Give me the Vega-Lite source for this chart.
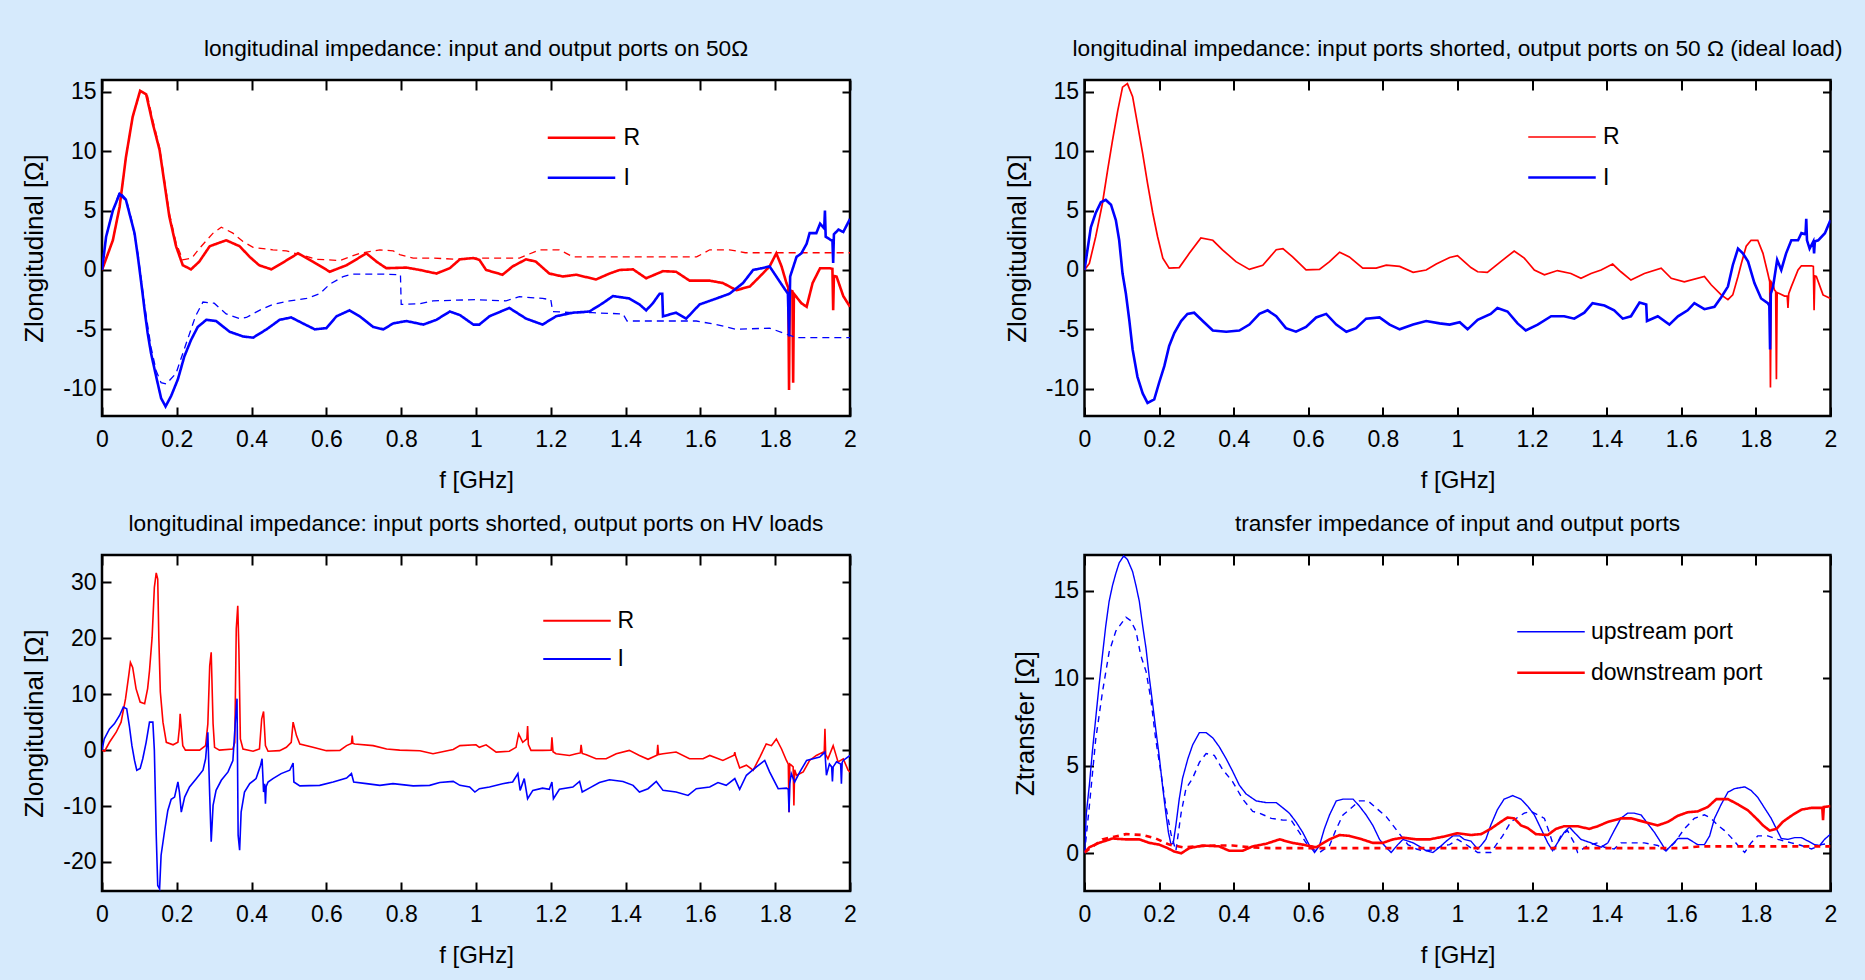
{
  "$schema": "https://vega.github.io/schema/vega-lite/v6.json",
  "background": "#d6eafc",
  "padding": {"left": 20, "top": 37, "right": 24, "bottom": 12},
  "config": {
    "font": "'Liberation Sans', Arial, sans-serif",
    "view": {"stroke": "#000000", "strokeWidth": 2.5, "fill": "#ffffff"},
    "axis": {"domain": false, "grid": false, "tickColor": "#000000", "tickWidth": 2, "tickSize": -9, "labelColor": "#000000", "labelFontSize": 23, "titleFontSize": 24, "titleFontWeight": "normal", "titleColor": "#000000", "labelFlush": false, "labelOverlap": false, "labelBound": false},
    "title": {"fontSize": 22.7, "fontWeight": "normal", "color": "#000000", "anchor": "middle", "baseline": "alphabetic", "offset": 18},
    "legend": {"labelColor": "#000000", "labelFontSize": 23, "labelLimit": 400, "padding": 0, "symbolType": "M-2.5,0H2.5", "symbolSize": 729, "orient": "none"}
  },
  "resolve": {
    "scale": {"color": "independent", "strokeWidth": "independent", "strokeDash": "independent"},
    "legend": {"color": "independent", "strokeWidth": "independent", "strokeDash": "independent"}
  },
  "datasets": {
    "p1": [
      {"f":0,"v":0,"s":"R","k":"m"},{"f":0.029,"v":2.5,"s":"R","k":"m"},{"f":0.047,"v":5.3,"s":"R","k":"m"},{"f":0.064,"v":9.5,"s":"R","k":"m"},{"f":0.082,"v":12.9,"s":"R","k":"m"},{"f":0.102,"v":15.1,"s":"R","k":"m"},{"f":0.118,"v":14.8,"s":"R","k":"m"},{"f":0.136,"v":12.3,"s":"R","k":"m"},{"f":0.154,"v":10.1,"s":"R","k":"m"},{"f":0.167,"v":7.3,"s":"R","k":"m"},{"f":0.18,"v":4.5,"s":"R","k":"m"},{"f":0.198,"v":2.0,"s":"R","k":"m"},{"f":0.216,"v":0.4,"s":"R","k":"m"},{"f":0.238,"v":0.05,"s":"R","k":"m"},{"f":0.26,"v":0.7,"s":"R","k":"m"},{"f":0.288,"v":2.0,"s":"R","k":"m"},{"f":0.332,"v":2.5,"s":"R","k":"m"},{"f":0.368,"v":2.0,"s":"R","k":"m"},{"f":0.395,"v":1.1,"s":"R","k":"m"},{"f":0.42,"v":0.4,"s":"R","k":"m"},{"f":0.453,"v":0.05,"s":"R","k":"m"},{"f":0.493,"v":0.8,"s":"R","k":"m"},{"f":0.524,"v":1.4,"s":"R","k":"m"},{"f":0.564,"v":0.7,"s":"R","k":"m"},{"f":0.609,"v":-0.15,"s":"R","k":"m"},{"f":0.654,"v":0.4,"s":"R","k":"m"},{"f":0.707,"v":1.4,"s":"R","k":"m"},{"f":0.734,"v":0.7,"s":"R","k":"m"},{"f":0.76,"v":0.15,"s":"R","k":"m"},{"f":0.814,"v":0.2,"s":"R","k":"m"},{"f":0.85,"v":0,"s":"R","k":"m"},{"f":0.894,"v":-0.3,"s":"R","k":"m"},{"f":0.93,"v":0.15,"s":"R","k":"m"},{"f":0.957,"v":0.9,"s":"R","k":"m"},{"f":0.993,"v":1.0,"s":"R","k":"m"},{"f":1.009,"v":0.85,"s":"R","k":"m"},{"f":1.027,"v":0,"s":"R","k":"m"},{"f":1.071,"v":-0.4,"s":"R","k":"m"},{"f":1.098,"v":0.3,"s":"R","k":"m"},{"f":1.134,"v":0.9,"s":"R","k":"m"},{"f":1.16,"v":0.7,"s":"R","k":"m"},{"f":1.196,"v":-0.3,"s":"R","k":"m"},{"f":1.232,"v":-0.55,"s":"R","k":"m"},{"f":1.268,"v":-0.4,"s":"R","k":"m"},{"f":1.321,"v":-0.8,"s":"R","k":"m"},{"f":1.357,"v":-0.3,"s":"R","k":"m"},{"f":1.384,"v":0,"s":"R","k":"m"},{"f":1.42,"v":0.05,"s":"R","k":"m"},{"f":1.455,"v":-0.7,"s":"R","k":"m"},{"f":1.5,"v":-0.1,"s":"R","k":"m"},{"f":1.535,"v":-0.15,"s":"R","k":"m"},{"f":1.571,"v":-0.9,"s":"R","k":"m"},{"f":1.625,"v":-0.9,"s":"R","k":"m"},{"f":1.66,"v":-1.1,"s":"R","k":"m"},{"f":1.696,"v":-1.7,"s":"R","k":"m"},{"f":1.732,"v":-1.4,"s":"R","k":"m"},{"f":1.759,"v":-0.55,"s":"R","k":"m"},{"f":1.785,"v":0.3,"s":"R","k":"m"},{"f":1.803,"v":1.4,"s":"R","k":"m"},{"f":1.817,"v":0.3,"s":"R","k":"m"},{"f":1.83,"v":-1.1,"s":"R","k":"m"},{"f":1.835,"v":-1.5,"s":"R","k":"m"},{"f":1.837,"v":-10.1,"s":"R","k":"m"},{"f":1.839,"v":-1.7,"s":"R","k":"m"},{"f":1.846,"v":-1.8,"s":"R","k":"m"},{"f":1.848,"v":-9.5,"s":"R","k":"m"},{"f":1.85,"v":-2,"s":"R","k":"m"},{"f":1.87,"v":-2.8,"s":"R","k":"m"},{"f":1.884,"v":-3.1,"s":"R","k":"m"},{"f":1.9,"v":-1.1,"s":"R","k":"m"},{"f":1.92,"v":0.15,"s":"R","k":"m"},{"f":1.946,"v":0.15,"s":"R","k":"m"},{"f":1.953,"v":0.1,"s":"R","k":"m"},{"f":1.955,"v":-3.4,"s":"R","k":"m"},{"f":1.957,"v":-0.5,"s":"R","k":"m"},{"f":1.964,"v":-0.55,"s":"R","k":"m"},{"f":1.982,"v":-2.2,"s":"R","k":"m"},{"f":2.0,"v":-3.1,"s":"R","k":"m"},
      {"f":0,"v":0,"s":"R","k":"s"},{"f":0.029,"v":2.5,"s":"R","k":"s"},{"f":0.047,"v":5.3,"s":"R","k":"s"},{"f":0.064,"v":9.5,"s":"R","k":"s"},{"f":0.082,"v":12.9,"s":"R","k":"s"},{"f":0.102,"v":15.0,"s":"R","k":"s"},{"f":0.12,"v":14.9,"s":"R","k":"s"},{"f":0.136,"v":12.6,"s":"R","k":"s"},{"f":0.154,"v":10.3,"s":"R","k":"s"},{"f":0.167,"v":7.6,"s":"R","k":"s"},{"f":0.18,"v":4.8,"s":"R","k":"s"},{"f":0.198,"v":2.3,"s":"R","k":"s"},{"f":0.216,"v":0.85,"s":"R","k":"s"},{"f":0.24,"v":1.0,"s":"R","k":"s"},{"f":0.26,"v":1.8,"s":"R","k":"s"},{"f":0.297,"v":3.1,"s":"R","k":"s"},{"f":0.319,"v":3.6,"s":"R","k":"s"},{"f":0.35,"v":3.1,"s":"R","k":"s"},{"f":0.377,"v":2.4,"s":"R","k":"s"},{"f":0.404,"v":1.9,"s":"R","k":"s"},{"f":0.457,"v":1.7,"s":"R","k":"s"},{"f":0.493,"v":1.6,"s":"R","k":"s"},{"f":0.529,"v":1.3,"s":"R","k":"s"},{"f":0.573,"v":0.9,"s":"R","k":"s"},{"f":0.636,"v":0.8,"s":"R","k":"s"},{"f":0.689,"v":1.4,"s":"R","k":"s"},{"f":0.743,"v":1.7,"s":"R","k":"s"},{"f":0.779,"v":1.6,"s":"R","k":"s"},{"f":0.796,"v":1.3,"s":"R","k":"s"},{"f":0.832,"v":1.0,"s":"R","k":"s"},{"f":0.885,"v":1.0,"s":"R","k":"s"},{"f":0.948,"v":0.9,"s":"R","k":"s"},{"f":1.0,"v":1.0,"s":"R","k":"s"},{"f":1.116,"v":1.0,"s":"R","k":"s"},{"f":1.17,"v":1.7,"s":"R","k":"s"},{"f":1.223,"v":1.7,"s":"R","k":"s"},{"f":1.259,"v":1.1,"s":"R","k":"s"},{"f":1.357,"v":1.1,"s":"R","k":"s"},{"f":1.59,"v":1.1,"s":"R","k":"s"},{"f":1.625,"v":1.7,"s":"R","k":"s"},{"f":1.678,"v":1.7,"s":"R","k":"s"},{"f":1.72,"v":1.45,"s":"R","k":"s"},{"f":2.0,"v":1.45,"s":"R","k":"s"},
      {"f":0,"v":0,"s":"I","k":"m"},{"f":0.011,"v":2.8,"s":"I","k":"m"},{"f":0.029,"v":5.0,"s":"I","k":"m"},{"f":0.047,"v":6.4,"s":"I","k":"m"},{"f":0.064,"v":5.9,"s":"I","k":"m"},{"f":0.078,"v":4.2,"s":"I","k":"m"},{"f":0.087,"v":3.1,"s":"I","k":"m"},{"f":0.096,"v":1.1,"s":"I","k":"m"},{"f":0.105,"v":-1.1,"s":"I","k":"m"},{"f":0.114,"v":-3.4,"s":"I","k":"m"},{"f":0.122,"v":-5.3,"s":"I","k":"m"},{"f":0.131,"v":-7.0,"s":"I","k":"m"},{"f":0.145,"v":-9.0,"s":"I","k":"m"},{"f":0.158,"v":-10.8,"s":"I","k":"m"},{"f":0.17,"v":-11.5,"s":"I","k":"m"},{"f":0.185,"v":-10.6,"s":"I","k":"m"},{"f":0.203,"v":-9.2,"s":"I","k":"m"},{"f":0.22,"v":-7.3,"s":"I","k":"m"},{"f":0.238,"v":-5.9,"s":"I","k":"m"},{"f":0.256,"v":-4.8,"s":"I","k":"m"},{"f":0.279,"v":-4.2,"s":"I","k":"m"},{"f":0.305,"v":-4.3,"s":"I","k":"m"},{"f":0.341,"v":-5.2,"s":"I","k":"m"},{"f":0.377,"v":-5.6,"s":"I","k":"m"},{"f":0.404,"v":-5.7,"s":"I","k":"m"},{"f":0.44,"v":-5.0,"s":"I","k":"m"},{"f":0.475,"v":-4.2,"s":"I","k":"m"},{"f":0.506,"v":-4.0,"s":"I","k":"m"},{"f":0.537,"v":-4.5,"s":"I","k":"m"},{"f":0.569,"v":-5.0,"s":"I","k":"m"},{"f":0.6,"v":-4.9,"s":"I","k":"m"},{"f":0.627,"v":-3.9,"s":"I","k":"m"},{"f":0.662,"v":-3.4,"s":"I","k":"m"},{"f":0.689,"v":-3.9,"s":"I","k":"m"},{"f":0.725,"v":-4.8,"s":"I","k":"m"},{"f":0.752,"v":-5.0,"s":"I","k":"m"},{"f":0.779,"v":-4.5,"s":"I","k":"m"},{"f":0.814,"v":-4.3,"s":"I","k":"m"},{"f":0.859,"v":-4.6,"s":"I","k":"m"},{"f":0.894,"v":-4.2,"s":"I","k":"m"},{"f":0.93,"v":-3.5,"s":"I","k":"m"},{"f":0.957,"v":-3.8,"s":"I","k":"m"},{"f":0.993,"v":-4.6,"s":"I","k":"m"},{"f":1.009,"v":-4.6,"s":"I","k":"m"},{"f":1.036,"v":-3.9,"s":"I","k":"m"},{"f":1.089,"v":-3.2,"s":"I","k":"m"},{"f":1.134,"v":-4.1,"s":"I","k":"m"},{"f":1.178,"v":-4.6,"s":"I","k":"m"},{"f":1.214,"v":-3.9,"s":"I","k":"m"},{"f":1.259,"v":-3.6,"s":"I","k":"m"},{"f":1.303,"v":-3.5,"s":"I","k":"m"},{"f":1.339,"v":-2.8,"s":"I","k":"m"},{"f":1.366,"v":-2.2,"s":"I","k":"m"},{"f":1.41,"v":-2.4,"s":"I","k":"m"},{"f":1.437,"v":-2.9,"s":"I","k":"m"},{"f":1.455,"v":-3.4,"s":"I","k":"m"},{"f":1.473,"v":-2.8,"s":"I","k":"m"},{"f":1.491,"v":-2.0,"s":"I","k":"m"},{"f":1.498,"v":-2.0,"s":"I","k":"m"},{"f":1.5,"v":-3.9,"s":"I","k":"m"},{"f":1.535,"v":-3.6,"s":"I","k":"m"},{"f":1.562,"v":-4.1,"s":"I","k":"m"},{"f":1.598,"v":-2.9,"s":"I","k":"m"},{"f":1.643,"v":-2.4,"s":"I","k":"m"},{"f":1.678,"v":-2.0,"s":"I","k":"m"},{"f":1.714,"v":-1.1,"s":"I","k":"m"},{"f":1.741,"v":0,"s":"I","k":"m"},{"f":1.772,"v":0.2,"s":"I","k":"m"},{"f":1.785,"v":0.3,"s":"I","k":"m"},{"f":1.803,"v":-0.55,"s":"I","k":"m"},{"f":1.821,"v":-1.4,"s":"I","k":"m"},{"f":1.834,"v":-2.0,"s":"I","k":"m"},{"f":1.837,"v":-5.6,"s":"I","k":"m"},{"f":1.84,"v":-0.55,"s":"I","k":"m"},{"f":1.857,"v":1.1,"s":"I","k":"m"},{"f":1.87,"v":1.4,"s":"I","k":"m"},{"f":1.884,"v":2.2,"s":"I","k":"m"},{"f":1.892,"v":3.1,"s":"I","k":"m"},{"f":1.91,"v":3.1,"s":"I","k":"m"},{"f":1.92,"v":3.9,"s":"I","k":"m"},{"f":1.931,"v":3.5,"s":"I","k":"m"},{"f":1.933,"v":5.0,"s":"I","k":"m"},{"f":1.935,"v":2.8,"s":"I","k":"m"},{"f":1.95,"v":2.5,"s":"I","k":"m"},{"f":1.953,"v":2.5,"s":"I","k":"m"},{"f":1.955,"v":0.6,"s":"I","k":"m"},{"f":1.957,"v":3.0,"s":"I","k":"m"},{"f":1.969,"v":3.4,"s":"I","k":"m"},{"f":1.982,"v":3.2,"s":"I","k":"m"},{"f":2.0,"v":4.3,"s":"I","k":"m"},
      {"f":0,"v":0,"s":"I","k":"s"},{"f":0.011,"v":2.8,"s":"I","k":"s"},{"f":0.029,"v":5.0,"s":"I","k":"s"},{"f":0.047,"v":6.6,"s":"I","k":"s"},{"f":0.064,"v":6.0,"s":"I","k":"s"},{"f":0.078,"v":4.4,"s":"I","k":"s"},{"f":0.096,"v":1.4,"s":"I","k":"s"},{"f":0.114,"v":-3.0,"s":"I","k":"s"},{"f":0.131,"v":-6.5,"s":"I","k":"s"},{"f":0.145,"v":-8.5,"s":"I","k":"s"},{"f":0.158,"v":-9.5,"s":"I","k":"s"},{"f":0.172,"v":-9.6,"s":"I","k":"s"},{"f":0.198,"v":-8.7,"s":"I","k":"s"},{"f":0.225,"v":-6.2,"s":"I","k":"s"},{"f":0.25,"v":-3.9,"s":"I","k":"s"},{"f":0.27,"v":-2.7,"s":"I","k":"s"},{"f":0.3,"v":-2.8,"s":"I","k":"s"},{"f":0.332,"v":-3.7,"s":"I","k":"s"},{"f":0.368,"v":-4.1,"s":"I","k":"s"},{"f":0.386,"v":-4.0,"s":"I","k":"s"},{"f":0.421,"v":-3.4,"s":"I","k":"s"},{"f":0.457,"v":-2.9,"s":"I","k":"s"},{"f":0.502,"v":-2.6,"s":"I","k":"s"},{"f":0.547,"v":-2.4,"s":"I","k":"s"},{"f":0.582,"v":-2.0,"s":"I","k":"s"},{"f":0.609,"v":-1.2,"s":"I","k":"s"},{"f":0.645,"v":-0.55,"s":"I","k":"s"},{"f":0.671,"v":-0.35,"s":"I","k":"s"},{"f":0.752,"v":-0.35,"s":"I","k":"s"},{"f":0.798,"v":-0.4,"s":"I","k":"s"},{"f":0.8,"v":-2.9,"s":"I","k":"s"},{"f":0.85,"v":-2.85,"s":"I","k":"s"},{"f":0.885,"v":-2.6,"s":"I","k":"s"},{"f":1.0,"v":-2.5,"s":"I","k":"s"},{"f":1.08,"v":-2.6,"s":"I","k":"s"},{"f":1.116,"v":-2.25,"s":"I","k":"s"},{"f":1.178,"v":-2.4,"s":"I","k":"s"},{"f":1.2,"v":-2.5,"s":"I","k":"s"},{"f":1.205,"v":-3.5,"s":"I","k":"s"},{"f":1.259,"v":-3.6,"s":"I","k":"s"},{"f":1.312,"v":-3.6,"s":"I","k":"s"},{"f":1.393,"v":-3.7,"s":"I","k":"s"},{"f":1.404,"v":-4.3,"s":"I","k":"s"},{"f":1.589,"v":-4.3,"s":"I","k":"s"},{"f":1.643,"v":-4.6,"s":"I","k":"s"},{"f":1.696,"v":-5.0,"s":"I","k":"s"},{"f":1.785,"v":-4.9,"s":"I","k":"s"},{"f":1.821,"v":-5.3,"s":"I","k":"s"},{"f":1.857,"v":-5.7,"s":"I","k":"s"},{"f":2.0,"v":-5.7,"s":"I","k":"s"}
    ],
    "p2": [
      {"f":0,"v":0,"s":"R"},{"f":0.013,"v":0.55,"s":"R"},{"f":0.03,"v":2.8,"s":"R"},{"f":0.048,"v":5.6,"s":"R"},{"f":0.062,"v":8.4,"s":"R"},{"f":0.075,"v":10.9,"s":"R"},{"f":0.089,"v":13.4,"s":"R"},{"f":0.102,"v":15.4,"s":"R"},{"f":0.115,"v":15.7,"s":"R"},{"f":0.129,"v":14.6,"s":"R"},{"f":0.142,"v":12.3,"s":"R"},{"f":0.156,"v":9.8,"s":"R"},{"f":0.169,"v":7.3,"s":"R"},{"f":0.183,"v":4.8,"s":"R"},{"f":0.196,"v":2.8,"s":"R"},{"f":0.21,"v":1.0,"s":"R"},{"f":0.227,"v":0.15,"s":"R"},{"f":0.254,"v":0.2,"s":"R"},{"f":0.281,"v":1.4,"s":"R"},{"f":0.312,"v":2.7,"s":"R"},{"f":0.344,"v":2.5,"s":"R"},{"f":0.37,"v":1.7,"s":"R"},{"f":0.406,"v":0.7,"s":"R"},{"f":0.442,"v":0.05,"s":"R"},{"f":0.478,"v":0.4,"s":"R"},{"f":0.514,"v":1.7,"s":"R"},{"f":0.532,"v":1.8,"s":"R"},{"f":0.558,"v":1.1,"s":"R"},{"f":0.594,"v":0,"s":"R"},{"f":0.63,"v":0.05,"s":"R"},{"f":0.657,"v":0.7,"s":"R"},{"f":0.684,"v":1.5,"s":"R"},{"f":0.71,"v":1.1,"s":"R"},{"f":0.746,"v":0.15,"s":"R"},{"f":0.782,"v":0.15,"s":"R"},{"f":0.809,"v":0.4,"s":"R"},{"f":0.845,"v":0.3,"s":"R"},{"f":0.881,"v":-0.2,"s":"R"},{"f":0.916,"v":0,"s":"R"},{"f":0.943,"v":0.5,"s":"R"},{"f":0.979,"v":1.05,"s":"R"},{"f":1.0,"v":1.2,"s":"R"},{"f":1.018,"v":0.7,"s":"R"},{"f":1.036,"v":0.2,"s":"R"},{"f":1.054,"v":-0.15,"s":"R"},{"f":1.08,"v":-0.2,"s":"R"},{"f":1.116,"v":0.7,"s":"R"},{"f":1.152,"v":1.6,"s":"R"},{"f":1.179,"v":1.0,"s":"R"},{"f":1.206,"v":0,"s":"R"},{"f":1.233,"v":-0.4,"s":"R"},{"f":1.268,"v":-0.05,"s":"R"},{"f":1.304,"v":-0.3,"s":"R"},{"f":1.331,"v":-0.7,"s":"R"},{"f":1.358,"v":-0.3,"s":"R"},{"f":1.385,"v":0,"s":"R"},{"f":1.416,"v":0.5,"s":"R"},{"f":1.438,"v":-0.15,"s":"R"},{"f":1.465,"v":-0.85,"s":"R"},{"f":1.501,"v":-0.3,"s":"R"},{"f":1.546,"v":0.15,"s":"R"},{"f":1.573,"v":-0.7,"s":"R"},{"f":1.608,"v":-1.0,"s":"R"},{"f":1.662,"v":-0.55,"s":"R"},{"f":1.68,"v":-1.25,"s":"R"},{"f":1.707,"v":-2.1,"s":"R"},{"f":1.725,"v":-2.5,"s":"R"},{"f":1.738,"v":-2.1,"s":"R"},{"f":1.752,"v":-0.55,"s":"R"},{"f":1.761,"v":0.55,"s":"R"},{"f":1.774,"v":2.0,"s":"R"},{"f":1.787,"v":2.5,"s":"R"},{"f":1.805,"v":2.5,"s":"R"},{"f":1.819,"v":1.4,"s":"R"},{"f":1.832,"v":-0.3,"s":"R"},{"f":1.837,"v":-1.0,"s":"R"},{"f":1.839,"v":-9.9,"s":"R"},{"f":1.841,"v":-1.0,"s":"R"},{"f":1.846,"v":-1.25,"s":"R"},{"f":1.85,"v":-1.7,"s":"R"},{"f":1.853,"v":-1.8,"s":"R"},{"f":1.855,"v":-9.2,"s":"R"},{"f":1.857,"v":-1.9,"s":"R"},{"f":1.877,"v":-2.2,"s":"R"},{"f":1.884,"v":-2.2,"s":"R"},{"f":1.886,"v":-3.2,"s":"R"},{"f":1.888,"v":-2.0,"s":"R"},{"f":1.895,"v":-1.4,"s":"R"},{"f":1.913,"v":0,"s":"R"},{"f":1.922,"v":0.35,"s":"R"},{"f":1.949,"v":0.35,"s":"R"},{"f":1.954,"v":0.3,"s":"R"},{"f":1.956,"v":-3.4,"s":"R"},{"f":1.958,"v":-0.5,"s":"R"},{"f":1.962,"v":-0.55,"s":"R"},{"f":1.98,"v":-2.1,"s":"R"},{"f":2.0,"v":-2.4,"s":"R"},
      {"f":0,"v":0,"s":"I"},{"f":0.008,"v":1.7,"s":"I"},{"f":0.017,"v":3.6,"s":"I"},{"f":0.03,"v":4.8,"s":"I"},{"f":0.044,"v":5.7,"s":"I"},{"f":0.057,"v":5.9,"s":"I"},{"f":0.071,"v":5.5,"s":"I"},{"f":0.084,"v":4.2,"s":"I"},{"f":0.093,"v":2.5,"s":"I"},{"f":0.102,"v":-0.3,"s":"I"},{"f":0.111,"v":-2.0,"s":"I"},{"f":0.12,"v":-4.2,"s":"I"},{"f":0.129,"v":-6.7,"s":"I"},{"f":0.142,"v":-9.0,"s":"I"},{"f":0.156,"v":-10.4,"s":"I"},{"f":0.169,"v":-11.2,"s":"I"},{"f":0.187,"v":-10.9,"s":"I"},{"f":0.2,"v":-9.5,"s":"I"},{"f":0.214,"v":-8.1,"s":"I"},{"f":0.227,"v":-6.4,"s":"I"},{"f":0.241,"v":-5.3,"s":"I"},{"f":0.259,"v":-4.3,"s":"I"},{"f":0.276,"v":-3.7,"s":"I"},{"f":0.294,"v":-3.6,"s":"I"},{"f":0.317,"v":-4.3,"s":"I"},{"f":0.344,"v":-5.1,"s":"I"},{"f":0.38,"v":-5.2,"s":"I"},{"f":0.415,"v":-5.1,"s":"I"},{"f":0.442,"v":-4.6,"s":"I"},{"f":0.469,"v":-3.7,"s":"I"},{"f":0.491,"v":-3.4,"s":"I"},{"f":0.514,"v":-3.9,"s":"I"},{"f":0.54,"v":-4.9,"s":"I"},{"f":0.567,"v":-5.2,"s":"I"},{"f":0.594,"v":-4.8,"s":"I"},{"f":0.621,"v":-4.0,"s":"I"},{"f":0.648,"v":-3.7,"s":"I"},{"f":0.675,"v":-4.6,"s":"I"},{"f":0.702,"v":-5.2,"s":"I"},{"f":0.728,"v":-4.9,"s":"I"},{"f":0.755,"v":-4.1,"s":"I"},{"f":0.791,"v":-4.0,"s":"I"},{"f":0.818,"v":-4.6,"s":"I"},{"f":0.845,"v":-5.0,"s":"I"},{"f":0.881,"v":-4.6,"s":"I"},{"f":0.916,"v":-4.3,"s":"I"},{"f":0.952,"v":-4.5,"s":"I"},{"f":0.979,"v":-4.6,"s":"I"},{"f":1.006,"v":-4.4,"s":"I"},{"f":1.027,"v":-5.0,"s":"I"},{"f":1.054,"v":-4.2,"s":"I"},{"f":1.089,"v":-3.7,"s":"I"},{"f":1.107,"v":-3.2,"s":"I"},{"f":1.134,"v":-3.5,"s":"I"},{"f":1.161,"v":-4.5,"s":"I"},{"f":1.183,"v":-5.1,"s":"I"},{"f":1.215,"v":-4.6,"s":"I"},{"f":1.251,"v":-3.9,"s":"I"},{"f":1.286,"v":-3.9,"s":"I"},{"f":1.313,"v":-4.1,"s":"I"},{"f":1.34,"v":-3.6,"s":"I"},{"f":1.362,"v":-2.8,"s":"I"},{"f":1.394,"v":-3.0,"s":"I"},{"f":1.42,"v":-3.4,"s":"I"},{"f":1.443,"v":-4.1,"s":"I"},{"f":1.465,"v":-3.9,"s":"I"},{"f":1.488,"v":-2.75,"s":"I"},{"f":1.506,"v":-2.9,"s":"I"},{"f":1.508,"v":-4.3,"s":"I"},{"f":1.537,"v":-3.9,"s":"I"},{"f":1.568,"v":-4.6,"s":"I"},{"f":1.591,"v":-3.9,"s":"I"},{"f":1.617,"v":-3.4,"s":"I"},{"f":1.635,"v":-2.8,"s":"I"},{"f":1.662,"v":-3.3,"s":"I"},{"f":1.689,"v":-3.1,"s":"I"},{"f":1.707,"v":-2.3,"s":"I"},{"f":1.725,"v":-1.4,"s":"I"},{"f":1.738,"v":0.4,"s":"I"},{"f":1.752,"v":1.8,"s":"I"},{"f":1.765,"v":1.4,"s":"I"},{"f":1.779,"v":0.7,"s":"I"},{"f":1.796,"v":-1.1,"s":"I"},{"f":1.814,"v":-2.4,"s":"I"},{"f":1.832,"v":-2.8,"s":"I"},{"f":1.836,"v":-3.0,"s":"I"},{"f":1.838,"v":-6.7,"s":"I"},{"f":1.84,"v":-2.0,"s":"I"},{"f":1.846,"v":-1.4,"s":"I"},{"f":1.857,"v":0.85,"s":"I"},{"f":1.868,"v":0,"s":"I"},{"f":1.881,"v":1.4,"s":"I"},{"f":1.895,"v":2.5,"s":"I"},{"f":1.913,"v":2.5,"s":"I"},{"f":1.922,"v":3.1,"s":"I"},{"f":1.933,"v":3.0,"s":"I"},{"f":1.935,"v":4.3,"s":"I"},{"f":1.937,"v":2.5,"s":"I"},{"f":1.944,"v":1.8,"s":"I"},{"f":1.954,"v":2.4,"s":"I"},{"f":1.956,"v":1.4,"s":"I"},{"f":1.958,"v":2.4,"s":"I"},{"f":1.967,"v":2.5,"s":"I"},{"f":1.985,"v":3.1,"s":"I"},{"f":2.0,"v":4.2,"s":"I"}
    ],
    "p3": [
      {"f":0,"v":0,"s":"R"},{"f":0.007,"v":-0.2,"s":"R"},{"f":0.02,"v":1.4,"s":"R"},{"f":0.038,"v":3.2,"s":"R"},{"f":0.051,"v":5.0,"s":"R"},{"f":0.063,"v":9.2,"s":"R"},{"f":0.072,"v":13.6,"s":"R"},{"f":0.076,"v":15.7,"s":"R"},{"f":0.082,"v":14.8,"s":"R"},{"f":0.091,"v":11.0,"s":"R"},{"f":0.102,"v":8.6,"s":"R"},{"f":0.114,"v":8.3,"s":"R"},{"f":0.122,"v":11.0,"s":"R"},{"f":0.127,"v":14.2,"s":"R"},{"f":0.134,"v":20.2,"s":"R"},{"f":0.14,"v":29.1,"s":"R"},{"f":0.145,"v":31.7,"s":"R"},{"f":0.149,"v":30.6,"s":"R"},{"f":0.152,"v":19.9,"s":"R"},{"f":0.156,"v":10.4,"s":"R"},{"f":0.163,"v":5.0,"s":"R"},{"f":0.172,"v":1.4,"s":"R"},{"f":0.19,"v":0.95,"s":"R"},{"f":0.203,"v":1.4,"s":"R"},{"f":0.207,"v":4.0,"s":"R"},{"f":0.209,"v":6.5,"s":"R"},{"f":0.212,"v":4.0,"s":"R"},{"f":0.216,"v":0.8,"s":"R"},{"f":0.223,"v":0,"s":"R"},{"f":0.261,"v":0,"s":"R"},{"f":0.277,"v":0.8,"s":"R"},{"f":0.283,"v":4.7,"s":"R"},{"f":0.288,"v":15.1,"s":"R"},{"f":0.292,"v":17.5,"s":"R"},{"f":0.297,"v":4.7,"s":"R"},{"f":0.301,"v":0.5,"s":"R"},{"f":0.314,"v":0,"s":"R"},{"f":0.35,"v":0.2,"s":"R"},{"f":0.355,"v":1.4,"s":"R"},{"f":0.359,"v":21.7,"s":"R"},{"f":0.363,"v":25.8,"s":"R"},{"f":0.366,"v":18.1,"s":"R"},{"f":0.37,"v":2.0,"s":"R"},{"f":0.377,"v":0.2,"s":"R"},{"f":0.404,"v":-0.2,"s":"R"},{"f":0.421,"v":0.2,"s":"R"},{"f":0.427,"v":5.6,"s":"R"},{"f":0.432,"v":6.9,"s":"R"},{"f":0.437,"v":0.8,"s":"R"},{"f":0.444,"v":-0.2,"s":"R"},{"f":0.475,"v":-0.1,"s":"R"},{"f":0.493,"v":0.5,"s":"R"},{"f":0.506,"v":1.4,"s":"R"},{"f":0.511,"v":5.0,"s":"R"},{"f":0.52,"v":2.6,"s":"R"},{"f":0.529,"v":1.1,"s":"R"},{"f":0.564,"v":0.5,"s":"R"},{"f":0.6,"v":-0.1,"s":"R"},{"f":0.636,"v":-0.05,"s":"R"},{"f":0.654,"v":0.8,"s":"R"},{"f":0.667,"v":1.2,"s":"R"},{"f":0.669,"v":2.6,"s":"R"},{"f":0.671,"v":1.2,"s":"R"},{"f":0.676,"v":1.1,"s":"R"},{"f":0.725,"v":0.8,"s":"R"},{"f":0.761,"v":0.2,"s":"R"},{"f":0.796,"v":0,"s":"R"},{"f":0.85,"v":-0.1,"s":"R"},{"f":0.885,"v":-0.65,"s":"R"},{"f":0.939,"v":0.1,"s":"R"},{"f":0.957,"v":0.8,"s":"R"},{"f":1.0,"v":0.95,"s":"R"},{"f":1.009,"v":0.5,"s":"R"},{"f":1.027,"v":0.95,"s":"R"},{"f":1.054,"v":-0.35,"s":"R"},{"f":1.089,"v":-0.2,"s":"R"},{"f":1.107,"v":0.5,"s":"R"},{"f":1.114,"v":2.9,"s":"R"},{"f":1.125,"v":1.4,"s":"R"},{"f":1.136,"v":2.0,"s":"R"},{"f":1.138,"v":4.3,"s":"R"},{"f":1.14,"v":1.0,"s":"R"},{"f":1.147,"v":-0.05,"s":"R"},{"f":1.178,"v":-0.05,"s":"R"},{"f":1.201,"v":0,"s":"R"},{"f":1.203,"v":2.3,"s":"R"},{"f":1.206,"v":-0.3,"s":"R"},{"f":1.214,"v":-0.65,"s":"R"},{"f":1.25,"v":-0.95,"s":"R"},{"f":1.268,"v":-0.65,"s":"R"},{"f":1.279,"v":-0.5,"s":"R"},{"f":1.281,"v":0.95,"s":"R"},{"f":1.284,"v":-0.6,"s":"R"},{"f":1.295,"v":-0.85,"s":"R"},{"f":1.321,"v":-1.55,"s":"R"},{"f":1.348,"v":-1.55,"s":"R"},{"f":1.375,"v":-0.65,"s":"R"},{"f":1.41,"v":-0.05,"s":"R"},{"f":1.437,"v":-0.95,"s":"R"},{"f":1.46,"v":-1.65,"s":"R"},{"f":1.482,"v":-0.95,"s":"R"},{"f":1.484,"v":-0.9,"s":"R"},{"f":1.486,"v":0.95,"s":"R"},{"f":1.488,"v":-0.8,"s":"R"},{"f":1.5,"v":-0.65,"s":"R"},{"f":1.535,"v":-0.35,"s":"R"},{"f":1.571,"v":-1.55,"s":"R"},{"f":1.607,"v":-1.55,"s":"R"},{"f":1.625,"v":-0.95,"s":"R"},{"f":1.66,"v":-1.85,"s":"R"},{"f":1.69,"v":-0.9,"s":"R"},{"f":1.692,"v":-0.35,"s":"R"},{"f":1.694,"v":-1.0,"s":"R"},{"f":1.705,"v":-3.2,"s":"R"},{"f":1.723,"v":-2.7,"s":"R"},{"f":1.741,"v":-3.6,"s":"R"},{"f":1.759,"v":-1.25,"s":"R"},{"f":1.776,"v":1.1,"s":"R"},{"f":1.79,"v":0.8,"s":"R"},{"f":1.803,"v":2.0,"s":"R"},{"f":1.817,"v":0.2,"s":"R"},{"f":1.83,"v":-1.85,"s":"R"},{"f":1.835,"v":-2.5,"s":"R"},{"f":1.837,"v":-11.1,"s":"R"},{"f":1.839,"v":-2.5,"s":"R"},{"f":1.843,"v":-2.7,"s":"R"},{"f":1.848,"v":-3.0,"s":"R"},{"f":1.85,"v":-9.9,"s":"R"},{"f":1.852,"v":-3.5,"s":"R"},{"f":1.857,"v":-4.5,"s":"R"},{"f":1.875,"v":-3.9,"s":"R"},{"f":1.892,"v":-1.85,"s":"R"},{"f":1.91,"v":-0.95,"s":"R"},{"f":1.928,"v":-0.35,"s":"R"},{"f":1.931,"v":-0.5,"s":"R"},{"f":1.933,"v":3.8,"s":"R"},{"f":1.935,"v":-0.8,"s":"R"},{"f":1.941,"v":-1.55,"s":"R"},{"f":1.955,"v":0.8,"s":"R"},{"f":1.968,"v":-2.1,"s":"R"},{"f":1.982,"v":-1.55,"s":"R"},{"f":1.995,"v":-3.6,"s":"R"},{"f":2.0,"v":-3.9,"s":"R"},
      {"f":0,"v":0,"s":"I"},{"f":0.006,"v":2.0,"s":"I"},{"f":0.02,"v":3.8,"s":"I"},{"f":0.033,"v":4.7,"s":"I"},{"f":0.047,"v":6.2,"s":"I"},{"f":0.057,"v":7.7,"s":"I"},{"f":0.066,"v":7.4,"s":"I"},{"f":0.073,"v":4.4,"s":"I"},{"f":0.08,"v":0.8,"s":"I"},{"f":0.087,"v":-1.85,"s":"I"},{"f":0.093,"v":-3.6,"s":"I"},{"f":0.102,"v":-3.3,"s":"I"},{"f":0.109,"v":-1.55,"s":"I"},{"f":0.118,"v":1.4,"s":"I"},{"f":0.127,"v":5.0,"s":"I"},{"f":0.136,"v":5.0,"s":"I"},{"f":0.14,"v":-0.05,"s":"I"},{"f":0.145,"v":-15.2,"s":"I"},{"f":0.149,"v":-24.2,"s":"I"},{"f":0.154,"v":-24.8,"s":"I"},{"f":0.158,"v":-18.8,"s":"I"},{"f":0.167,"v":-14.6,"s":"I"},{"f":0.176,"v":-10.8,"s":"I"},{"f":0.185,"v":-8.8,"s":"I"},{"f":0.194,"v":-8.4,"s":"I"},{"f":0.203,"v":-5.7,"s":"I"},{"f":0.207,"v":-7.5,"s":"I"},{"f":0.212,"v":-11.1,"s":"I"},{"f":0.221,"v":-8.4,"s":"I"},{"f":0.234,"v":-6.6,"s":"I"},{"f":0.252,"v":-5.1,"s":"I"},{"f":0.27,"v":-3.6,"s":"I"},{"f":0.277,"v":-1.55,"s":"I"},{"f":0.283,"v":3.2,"s":"I"},{"f":0.288,"v":-8.1,"s":"I"},{"f":0.292,"v":-16.4,"s":"I"},{"f":0.297,"v":-9.9,"s":"I"},{"f":0.305,"v":-7.2,"s":"I"},{"f":0.319,"v":-5.4,"s":"I"},{"f":0.337,"v":-3.9,"s":"I"},{"f":0.35,"v":-1.85,"s":"I"},{"f":0.357,"v":5.6,"s":"I"},{"f":0.361,"v":9.2,"s":"I"},{"f":0.364,"v":-15.2,"s":"I"},{"f":0.368,"v":-17.9,"s":"I"},{"f":0.372,"v":-11.1,"s":"I"},{"f":0.381,"v":-7.5,"s":"I"},{"f":0.395,"v":-6.0,"s":"I"},{"f":0.412,"v":-5.1,"s":"I"},{"f":0.424,"v":-2.7,"s":"I"},{"f":0.428,"v":-1.55,"s":"I"},{"f":0.432,"v":-7.5,"s":"I"},{"f":0.435,"v":-6.0,"s":"I"},{"f":0.437,"v":-9.6,"s":"I"},{"f":0.439,"v":-6.5,"s":"I"},{"f":0.444,"v":-5.7,"s":"I"},{"f":0.457,"v":-5.1,"s":"I"},{"f":0.479,"v":-4.2,"s":"I"},{"f":0.502,"v":-3.6,"s":"I"},{"f":0.511,"v":-2.3,"s":"I"},{"f":0.513,"v":-5.7,"s":"I"},{"f":0.529,"v":-6.4,"s":"I"},{"f":0.582,"v":-6.3,"s":"I"},{"f":0.618,"v":-5.7,"s":"I"},{"f":0.654,"v":-5.0,"s":"I"},{"f":0.667,"v":-4.2,"s":"I"},{"f":0.673,"v":-5.7,"s":"I"},{"f":0.707,"v":-6.0,"s":"I"},{"f":0.743,"v":-6.3,"s":"I"},{"f":0.778,"v":-6.0,"s":"I"},{"f":0.832,"v":-6.4,"s":"I"},{"f":0.876,"v":-6.3,"s":"I"},{"f":0.903,"v":-5.8,"s":"I"},{"f":0.939,"v":-5.6,"s":"I"},{"f":0.957,"v":-6.3,"s":"I"},{"f":0.983,"v":-6.6,"s":"I"},{"f":0.997,"v":-7.5,"s":"I"},{"f":1.009,"v":-6.9,"s":"I"},{"f":1.036,"v":-6.6,"s":"I"},{"f":1.071,"v":-6.0,"s":"I"},{"f":1.098,"v":-5.7,"s":"I"},{"f":1.112,"v":-4.2,"s":"I"},{"f":1.118,"v":-7.2,"s":"I"},{"f":1.129,"v":-5.1,"s":"I"},{"f":1.138,"v":-8.7,"s":"I"},{"f":1.152,"v":-7.2,"s":"I"},{"f":1.178,"v":-6.8,"s":"I"},{"f":1.196,"v":-7.0,"s":"I"},{"f":1.203,"v":-5.7,"s":"I"},{"f":1.207,"v":-8.7,"s":"I"},{"f":1.223,"v":-7.0,"s":"I"},{"f":1.259,"v":-6.6,"s":"I"},{"f":1.277,"v":-5.6,"s":"I"},{"f":1.284,"v":-7.5,"s":"I"},{"f":1.303,"v":-6.8,"s":"I"},{"f":1.33,"v":-5.8,"s":"I"},{"f":1.357,"v":-5.3,"s":"I"},{"f":1.393,"v":-5.6,"s":"I"},{"f":1.42,"v":-6.3,"s":"I"},{"f":1.437,"v":-7.5,"s":"I"},{"f":1.46,"v":-6.9,"s":"I"},{"f":1.482,"v":-5.6,"s":"I"},{"f":1.5,"v":-7.2,"s":"I"},{"f":1.535,"v":-7.5,"s":"I"},{"f":1.567,"v":-8.1,"s":"I"},{"f":1.589,"v":-6.9,"s":"I"},{"f":1.625,"v":-6.6,"s":"I"},{"f":1.647,"v":-5.8,"s":"I"},{"f":1.669,"v":-6.3,"s":"I"},{"f":1.692,"v":-5.1,"s":"I"},{"f":1.705,"v":-7.0,"s":"I"},{"f":1.723,"v":-4.5,"s":"I"},{"f":1.75,"v":-3.0,"s":"I"},{"f":1.772,"v":-1.85,"s":"I"},{"f":1.785,"v":-3.9,"s":"I"},{"f":1.808,"v":-6.9,"s":"I"},{"f":1.83,"v":-6.8,"s":"I"},{"f":1.835,"v":-7.0,"s":"I"},{"f":1.837,"v":-11.1,"s":"I"},{"f":1.839,"v":-6.0,"s":"I"},{"f":1.843,"v":-4.2,"s":"I"},{"f":1.852,"v":-5.7,"s":"I"},{"f":1.866,"v":-3.9,"s":"I"},{"f":1.884,"v":-1.85,"s":"I"},{"f":1.901,"v":-1.55,"s":"I"},{"f":1.919,"v":-1.25,"s":"I"},{"f":1.933,"v":-0.35,"s":"I"},{"f":1.937,"v":-4.5,"s":"I"},{"f":1.945,"v":-2.5,"s":"I"},{"f":1.951,"v":-3.0,"s":"I"},{"f":1.953,"v":-5.6,"s":"I"},{"f":1.955,"v":-3.0,"s":"I"},{"f":1.964,"v":-2.1,"s":"I"},{"f":1.975,"v":-2.5,"s":"I"},{"f":1.977,"v":-6.0,"s":"I"},{"f":1.979,"v":-2.2,"s":"I"},{"f":1.982,"v":-1.85,"s":"I"},{"f":2.0,"v":-0.95,"s":"I"}
    ],
    "p4": [
      {"f":0,"v":0.05,"s":"upstream port","k":"m"},{"f":0.005,"v":2.3,"s":"upstream port","k":"m"},{"f":0.013,"v":3.9,"s":"upstream port","k":"m"},{"f":0.021,"v":5.8,"s":"upstream port","k":"m"},{"f":0.03,"v":7.7,"s":"upstream port","k":"m"},{"f":0.039,"v":9.6,"s":"upstream port","k":"m"},{"f":0.048,"v":11.3,"s":"upstream port","k":"m"},{"f":0.057,"v":13.0,"s":"upstream port","k":"m"},{"f":0.066,"v":14.4,"s":"upstream port","k":"m"},{"f":0.075,"v":15.3,"s":"upstream port","k":"m"},{"f":0.084,"v":16.0,"s":"upstream port","k":"m"},{"f":0.093,"v":16.6,"s":"upstream port","k":"m"},{"f":0.105,"v":17.0,"s":"upstream port","k":"m"},{"f":0.115,"v":16.8,"s":"upstream port","k":"m"},{"f":0.129,"v":16.1,"s":"upstream port","k":"m"},{"f":0.138,"v":15.3,"s":"upstream port","k":"m"},{"f":0.147,"v":14.4,"s":"upstream port","k":"m"},{"f":0.156,"v":13.0,"s":"upstream port","k":"m"},{"f":0.165,"v":11.7,"s":"upstream port","k":"m"},{"f":0.174,"v":10.0,"s":"upstream port","k":"m"},{"f":0.183,"v":8.5,"s":"upstream port","k":"m"},{"f":0.191,"v":7.1,"s":"upstream port","k":"m"},{"f":0.2,"v":5.6,"s":"upstream port","k":"m"},{"f":0.209,"v":3.9,"s":"upstream port","k":"m"},{"f":0.218,"v":2.3,"s":"upstream port","k":"m"},{"f":0.225,"v":1.2,"s":"upstream port","k":"m"},{"f":0.232,"v":0.5,"s":"upstream port","k":"m"},{"f":0.238,"v":0.6,"s":"upstream port","k":"m"},{"f":0.245,"v":1.6,"s":"upstream port","k":"m"},{"f":0.254,"v":3.1,"s":"upstream port","k":"m"},{"f":0.263,"v":4.3,"s":"upstream port","k":"m"},{"f":0.277,"v":5.4,"s":"upstream port","k":"m"},{"f":0.29,"v":6.2,"s":"upstream port","k":"m"},{"f":0.308,"v":6.9,"s":"upstream port","k":"m"},{"f":0.326,"v":6.9,"s":"upstream port","k":"m"},{"f":0.344,"v":6.6,"s":"upstream port","k":"m"},{"f":0.361,"v":6.1,"s":"upstream port","k":"m"},{"f":0.38,"v":5.4,"s":"upstream port","k":"m"},{"f":0.397,"v":4.7,"s":"upstream port","k":"m"},{"f":0.415,"v":3.9,"s":"upstream port","k":"m"},{"f":0.433,"v":3.4,"s":"upstream port","k":"m"},{"f":0.46,"v":3.0,"s":"upstream port","k":"m"},{"f":0.487,"v":2.9,"s":"upstream port","k":"m"},{"f":0.514,"v":2.9,"s":"upstream port","k":"m"},{"f":0.532,"v":2.6,"s":"upstream port","k":"m"},{"f":0.549,"v":2.3,"s":"upstream port","k":"m"},{"f":0.567,"v":1.8,"s":"upstream port","k":"m"},{"f":0.585,"v":1.2,"s":"upstream port","k":"m"},{"f":0.603,"v":0.45,"s":"upstream port","k":"m"},{"f":0.617,"v":0.05,"s":"upstream port","k":"m"},{"f":0.63,"v":0.45,"s":"upstream port","k":"m"},{"f":0.643,"v":1.4,"s":"upstream port","k":"m"},{"f":0.657,"v":2.2,"s":"upstream port","k":"m"},{"f":0.675,"v":3.0,"s":"upstream port","k":"m"},{"f":0.693,"v":3.1,"s":"upstream port","k":"m"},{"f":0.72,"v":3.1,"s":"upstream port","k":"m"},{"f":0.737,"v":2.7,"s":"upstream port","k":"m"},{"f":0.755,"v":2.2,"s":"upstream port","k":"m"},{"f":0.773,"v":1.6,"s":"upstream port","k":"m"},{"f":0.791,"v":0.8,"s":"upstream port","k":"m"},{"f":0.804,"v":0.45,"s":"upstream port","k":"m"},{"f":0.822,"v":0.05,"s":"upstream port","k":"m"},{"f":0.84,"v":0.5,"s":"upstream port","k":"m"},{"f":0.854,"v":0.8,"s":"upstream port","k":"m"},{"f":0.881,"v":0.6,"s":"upstream port","k":"m"},{"f":0.898,"v":0.4,"s":"upstream port","k":"m"},{"f":0.916,"v":0.15,"s":"upstream port","k":"m"},{"f":0.934,"v":0.05,"s":"upstream port","k":"m"},{"f":0.952,"v":0.35,"s":"upstream port","k":"m"},{"f":0.97,"v":0.7,"s":"upstream port","k":"m"},{"f":0.988,"v":1.0,"s":"upstream port","k":"m"},{"f":1.006,"v":1.0,"s":"upstream port","k":"m"},{"f":1.018,"v":0.8,"s":"upstream port","k":"m"},{"f":1.036,"v":0.7,"s":"upstream port","k":"m"},{"f":1.054,"v":0.25,"s":"upstream port","k":"m"},{"f":1.063,"v":0.45,"s":"upstream port","k":"m"},{"f":1.076,"v":0.8,"s":"upstream port","k":"m"},{"f":1.089,"v":1.6,"s":"upstream port","k":"m"},{"f":1.107,"v":2.5,"s":"upstream port","k":"m"},{"f":1.125,"v":3.1,"s":"upstream port","k":"m"},{"f":1.148,"v":3.3,"s":"upstream port","k":"m"},{"f":1.17,"v":3.1,"s":"upstream port","k":"m"},{"f":1.188,"v":2.7,"s":"upstream port","k":"m"},{"f":1.206,"v":2.2,"s":"upstream port","k":"m"},{"f":1.224,"v":1.4,"s":"upstream port","k":"m"},{"f":1.242,"v":0.6,"s":"upstream port","k":"m"},{"f":1.255,"v":0.15,"s":"upstream port","k":"m"},{"f":1.268,"v":0.6,"s":"upstream port","k":"m"},{"f":1.286,"v":1.2,"s":"upstream port","k":"m"},{"f":1.3,"v":1.5,"s":"upstream port","k":"m"},{"f":1.313,"v":1.2,"s":"upstream port","k":"m"},{"f":1.331,"v":0.8,"s":"upstream port","k":"m"},{"f":1.358,"v":0.6,"s":"upstream port","k":"m"},{"f":1.385,"v":0.35,"s":"upstream port","k":"m"},{"f":1.403,"v":0.6,"s":"upstream port","k":"m"},{"f":1.42,"v":1.3,"s":"upstream port","k":"m"},{"f":1.438,"v":2.0,"s":"upstream port","k":"m"},{"f":1.456,"v":2.3,"s":"upstream port","k":"m"},{"f":1.474,"v":2.3,"s":"upstream port","k":"m"},{"f":1.492,"v":2.2,"s":"upstream port","k":"m"},{"f":1.51,"v":1.7,"s":"upstream port","k":"m"},{"f":1.528,"v":1.2,"s":"upstream port","k":"m"},{"f":1.546,"v":0.6,"s":"upstream port","k":"m"},{"f":1.559,"v":0.15,"s":"upstream port","k":"m"},{"f":1.573,"v":0.45,"s":"upstream port","k":"m"},{"f":1.591,"v":0.85,"s":"upstream port","k":"m"},{"f":1.617,"v":0.85,"s":"upstream port","k":"m"},{"f":1.644,"v":0.5,"s":"upstream port","k":"m"},{"f":1.662,"v":0.5,"s":"upstream port","k":"m"},{"f":1.676,"v":1.0,"s":"upstream port","k":"m"},{"f":1.689,"v":2.0,"s":"upstream port","k":"m"},{"f":1.707,"v":2.8,"s":"upstream port","k":"m"},{"f":1.725,"v":3.5,"s":"upstream port","k":"m"},{"f":1.743,"v":3.7,"s":"upstream port","k":"m"},{"f":1.77,"v":3.8,"s":"upstream port","k":"m"},{"f":1.787,"v":3.6,"s":"upstream port","k":"m"},{"f":1.805,"v":3.2,"s":"upstream port","k":"m"},{"f":1.823,"v":2.6,"s":"upstream port","k":"m"},{"f":1.841,"v":2.0,"s":"upstream port","k":"m"},{"f":1.855,"v":1.4,"s":"upstream port","k":"m"},{"f":1.868,"v":0.85,"s":"upstream port","k":"m"},{"f":1.886,"v":0.8,"s":"upstream port","k":"m"},{"f":1.904,"v":0.9,"s":"upstream port","k":"m"},{"f":1.922,"v":0.9,"s":"upstream port","k":"m"},{"f":1.94,"v":0.7,"s":"upstream port","k":"m"},{"f":1.957,"v":0.5,"s":"upstream port","k":"m"},{"f":1.971,"v":0.45,"s":"upstream port","k":"m"},{"f":1.984,"v":0.8,"s":"upstream port","k":"m"},{"f":2.0,"v":1.1,"s":"upstream port","k":"m"},
      {"f":0,"v":0,"s":"upstream port","k":"s"},{"f":0.013,"v":2.7,"s":"upstream port","k":"s"},{"f":0.03,"v":6.5,"s":"upstream port","k":"s"},{"f":0.048,"v":9.2,"s":"upstream port","k":"s"},{"f":0.066,"v":11.5,"s":"upstream port","k":"s"},{"f":0.084,"v":12.7,"s":"upstream port","k":"s"},{"f":0.111,"v":13.5,"s":"upstream port","k":"s"},{"f":0.124,"v":13.3,"s":"upstream port","k":"s"},{"f":0.138,"v":12.7,"s":"upstream port","k":"s"},{"f":0.151,"v":11.3,"s":"upstream port","k":"s"},{"f":0.165,"v":10.4,"s":"upstream port","k":"s"},{"f":0.178,"v":8.8,"s":"upstream port","k":"s"},{"f":0.191,"v":6.5,"s":"upstream port","k":"s"},{"f":0.205,"v":4.6,"s":"upstream port","k":"s"},{"f":0.218,"v":2.7,"s":"upstream port","k":"s"},{"f":0.232,"v":1.1,"s":"upstream port","k":"s"},{"f":0.245,"v":0.15,"s":"upstream port","k":"s"},{"f":0.259,"v":2.3,"s":"upstream port","k":"s"},{"f":0.272,"v":3.7,"s":"upstream port","k":"s"},{"f":0.29,"v":4.3,"s":"upstream port","k":"s"},{"f":0.308,"v":5.2,"s":"upstream port","k":"s"},{"f":0.326,"v":5.7,"s":"upstream port","k":"s"},{"f":0.348,"v":5.6,"s":"upstream port","k":"s"},{"f":0.37,"v":4.8,"s":"upstream port","k":"s"},{"f":0.397,"v":4.1,"s":"upstream port","k":"s"},{"f":0.424,"v":3.1,"s":"upstream port","k":"s"},{"f":0.451,"v":2.4,"s":"upstream port","k":"s"},{"f":0.469,"v":2.3,"s":"upstream port","k":"s"},{"f":0.501,"v":2.0,"s":"upstream port","k":"s"},{"f":0.532,"v":1.9,"s":"upstream port","k":"s"},{"f":0.554,"v":1.9,"s":"upstream port","k":"s"},{"f":0.576,"v":1.2,"s":"upstream port","k":"s"},{"f":0.594,"v":0.6,"s":"upstream port","k":"s"},{"f":0.612,"v":0.25,"s":"upstream port","k":"s"},{"f":0.63,"v":0.05,"s":"upstream port","k":"s"},{"f":0.657,"v":0.45,"s":"upstream port","k":"s"},{"f":0.675,"v":1.4,"s":"upstream port","k":"s"},{"f":0.693,"v":2.2,"s":"upstream port","k":"s"},{"f":0.71,"v":2.5,"s":"upstream port","k":"s"},{"f":0.737,"v":3.0,"s":"upstream port","k":"s"},{"f":0.76,"v":3.0,"s":"upstream port","k":"s"},{"f":0.787,"v":2.5,"s":"upstream port","k":"s"},{"f":0.809,"v":2.1,"s":"upstream port","k":"s"},{"f":0.827,"v":1.6,"s":"upstream port","k":"s"},{"f":0.845,"v":1.1,"s":"upstream port","k":"s"},{"f":0.867,"v":0.5,"s":"upstream port","k":"s"},{"f":0.89,"v":0.25,"s":"upstream port","k":"s"},{"f":0.907,"v":0.15,"s":"upstream port","k":"s"},{"f":0.934,"v":0.2,"s":"upstream port","k":"s"},{"f":0.961,"v":0.45,"s":"upstream port","k":"s"},{"f":0.979,"v":0.5,"s":"upstream port","k":"s"},{"f":1.0,"v":0.8,"s":"upstream port","k":"s"},{"f":1.027,"v":0.45,"s":"upstream port","k":"s"},{"f":1.054,"v":0.05,"s":"upstream port","k":"s"},{"f":1.089,"v":0.05,"s":"upstream port","k":"s"},{"f":1.121,"v":1.0,"s":"upstream port","k":"s"},{"f":1.143,"v":1.8,"s":"upstream port","k":"s"},{"f":1.179,"v":2.3,"s":"upstream port","k":"s"},{"f":1.197,"v":2.4,"s":"upstream port","k":"s"},{"f":1.215,"v":2.2,"s":"upstream port","k":"s"},{"f":1.233,"v":2.0,"s":"upstream port","k":"s"},{"f":1.246,"v":1.2,"s":"upstream port","k":"s"},{"f":1.26,"v":0.25,"s":"upstream port","k":"s"},{"f":1.277,"v":1.0,"s":"upstream port","k":"s"},{"f":1.295,"v":1.3,"s":"upstream port","k":"s"},{"f":1.313,"v":0.6,"s":"upstream port","k":"s"},{"f":1.322,"v":0.05,"s":"upstream port","k":"s"},{"f":1.349,"v":0.45,"s":"upstream port","k":"s"},{"f":1.376,"v":0.6,"s":"upstream port","k":"s"},{"f":1.394,"v":0.35,"s":"upstream port","k":"s"},{"f":1.42,"v":0.25,"s":"upstream port","k":"s"},{"f":1.438,"v":0.6,"s":"upstream port","k":"s"},{"f":1.501,"v":0.6,"s":"upstream port","k":"s"},{"f":1.537,"v":0.45,"s":"upstream port","k":"s"},{"f":1.559,"v":0.15,"s":"upstream port","k":"s"},{"f":1.582,"v":0.6,"s":"upstream port","k":"s"},{"f":1.608,"v":1.4,"s":"upstream port","k":"s"},{"f":1.635,"v":2.0,"s":"upstream port","k":"s"},{"f":1.662,"v":2.2,"s":"upstream port","k":"s"},{"f":1.68,"v":2.0,"s":"upstream port","k":"s"},{"f":1.698,"v":1.6,"s":"upstream port","k":"s"},{"f":1.716,"v":1.3,"s":"upstream port","k":"s"},{"f":1.734,"v":0.9,"s":"upstream port","k":"s"},{"f":1.752,"v":0.45,"s":"upstream port","k":"s"},{"f":1.77,"v":0.05,"s":"upstream port","k":"s"},{"f":1.787,"v":0.6,"s":"upstream port","k":"s"},{"f":1.805,"v":1.0,"s":"upstream port","k":"s"},{"f":1.832,"v":1.0,"s":"upstream port","k":"s"},{"f":1.859,"v":0.8,"s":"upstream port","k":"s"},{"f":1.895,"v":0.6,"s":"upstream port","k":"s"},{"f":1.922,"v":0.45,"s":"upstream port","k":"s"},{"f":1.949,"v":0.25,"s":"upstream port","k":"s"},{"f":1.976,"v":0.5,"s":"upstream port","k":"s"},{"f":2.0,"v":0.6,"s":"upstream port","k":"s"},
      {"f":0,"v":0.05,"s":"downstream port","k":"m"},{"f":0.013,"v":0.35,"s":"downstream port","k":"m"},{"f":0.039,"v":0.6,"s":"downstream port","k":"m"},{"f":0.075,"v":0.85,"s":"downstream port","k":"m"},{"f":0.111,"v":0.8,"s":"downstream port","k":"m"},{"f":0.147,"v":0.8,"s":"downstream port","k":"m"},{"f":0.174,"v":0.6,"s":"downstream port","k":"m"},{"f":0.2,"v":0.5,"s":"downstream port","k":"m"},{"f":0.223,"v":0.3,"s":"downstream port","k":"m"},{"f":0.241,"v":0.1,"s":"downstream port","k":"m"},{"f":0.259,"v":0.0,"s":"downstream port","k":"m"},{"f":0.281,"v":0.3,"s":"downstream port","k":"m"},{"f":0.317,"v":0.45,"s":"downstream port","k":"m"},{"f":0.361,"v":0.4,"s":"downstream port","k":"m"},{"f":0.388,"v":0.15,"s":"downstream port","k":"m"},{"f":0.424,"v":0.15,"s":"downstream port","k":"m"},{"f":0.451,"v":0.4,"s":"downstream port","k":"m"},{"f":0.487,"v":0.55,"s":"downstream port","k":"m"},{"f":0.523,"v":0.8,"s":"downstream port","k":"m"},{"f":0.558,"v":0.6,"s":"downstream port","k":"m"},{"f":0.585,"v":0.5,"s":"downstream port","k":"m"},{"f":0.621,"v":0.35,"s":"downstream port","k":"m"},{"f":0.657,"v":0.8,"s":"downstream port","k":"m"},{"f":0.684,"v":1.05,"s":"downstream port","k":"m"},{"f":0.71,"v":1.0,"s":"downstream port","k":"m"},{"f":0.737,"v":0.85,"s":"downstream port","k":"m"},{"f":0.773,"v":0.6,"s":"downstream port","k":"m"},{"f":0.8,"v":0.6,"s":"downstream port","k":"m"},{"f":0.827,"v":0.8,"s":"downstream port","k":"m"},{"f":0.854,"v":0.9,"s":"downstream port","k":"m"},{"f":0.89,"v":0.8,"s":"downstream port","k":"m"},{"f":0.925,"v":0.8,"s":"downstream port","k":"m"},{"f":0.961,"v":0.95,"s":"downstream port","k":"m"},{"f":1.0,"v":1.15,"s":"downstream port","k":"m"},{"f":1.036,"v":1.05,"s":"downstream port","k":"m"},{"f":1.063,"v":1.1,"s":"downstream port","k":"m"},{"f":1.089,"v":1.4,"s":"downstream port","k":"m"},{"f":1.116,"v":1.8,"s":"downstream port","k":"m"},{"f":1.134,"v":2.05,"s":"downstream port","k":"m"},{"f":1.152,"v":2.0,"s":"downstream port","k":"m"},{"f":1.17,"v":1.6,"s":"downstream port","k":"m"},{"f":1.188,"v":1.45,"s":"downstream port","k":"m"},{"f":1.21,"v":1.1,"s":"downstream port","k":"m"},{"f":1.242,"v":1.05,"s":"downstream port","k":"m"},{"f":1.264,"v":1.4,"s":"downstream port","k":"m"},{"f":1.286,"v":1.55,"s":"downstream port","k":"m"},{"f":1.322,"v":1.55,"s":"downstream port","k":"m"},{"f":1.353,"v":1.4,"s":"downstream port","k":"m"},{"f":1.376,"v":1.55,"s":"downstream port","k":"m"},{"f":1.403,"v":1.8,"s":"downstream port","k":"m"},{"f":1.438,"v":2.0,"s":"downstream port","k":"m"},{"f":1.465,"v":2.0,"s":"downstream port","k":"m"},{"f":1.501,"v":1.8,"s":"downstream port","k":"m"},{"f":1.537,"v":1.6,"s":"downstream port","k":"m"},{"f":1.564,"v":1.8,"s":"downstream port","k":"m"},{"f":1.591,"v":2.15,"s":"downstream port","k":"m"},{"f":1.617,"v":2.35,"s":"downstream port","k":"m"},{"f":1.644,"v":2.4,"s":"downstream port","k":"m"},{"f":1.671,"v":2.65,"s":"downstream port","k":"m"},{"f":1.694,"v":3.1,"s":"downstream port","k":"m"},{"f":1.725,"v":3.1,"s":"downstream port","k":"m"},{"f":1.752,"v":2.8,"s":"downstream port","k":"m"},{"f":1.779,"v":2.45,"s":"downstream port","k":"m"},{"f":1.801,"v":2.0,"s":"downstream port","k":"m"},{"f":1.819,"v":1.6,"s":"downstream port","k":"m"},{"f":1.837,"v":1.3,"s":"downstream port","k":"m"},{"f":1.855,"v":1.4,"s":"downstream port","k":"m"},{"f":1.872,"v":1.8,"s":"downstream port","k":"m"},{"f":1.895,"v":2.15,"s":"downstream port","k":"m"},{"f":1.922,"v":2.5,"s":"downstream port","k":"m"},{"f":1.949,"v":2.6,"s":"downstream port","k":"m"},{"f":1.978,"v":2.6,"s":"downstream port","k":"m"},{"f":1.98,"v":1.9,"s":"downstream port","k":"m"},{"f":1.982,"v":2.65,"s":"downstream port","k":"m"},{"f":2.0,"v":2.7,"s":"downstream port","k":"m"},
      {"f":0,"v":0.05,"s":"downstream port","k":"s"},{"f":0.048,"v":0.8,"s":"downstream port","k":"s"},{"f":0.111,"v":1.1,"s":"downstream port","k":"s"},{"f":0.156,"v":1.05,"s":"downstream port","k":"s"},{"f":0.191,"v":0.85,"s":"downstream port","k":"s"},{"f":0.227,"v":0.5,"s":"downstream port","k":"s"},{"f":0.263,"v":0.35,"s":"downstream port","k":"s"},{"f":0.299,"v":0.4,"s":"downstream port","k":"s"},{"f":0.352,"v":0.45,"s":"downstream port","k":"s"},{"f":0.397,"v":0.45,"s":"downstream port","k":"s"},{"f":0.442,"v":0.35,"s":"downstream port","k":"s"},{"f":0.496,"v":0.3,"s":"downstream port","k":"s"},{"f":1.0,"v":0.3,"s":"downstream port","k":"s"},{"f":1.6,"v":0.3,"s":"downstream port","k":"s"},{"f":1.65,"v":0.4,"s":"downstream port","k":"s"},{"f":2.0,"v":0.4,"s":"downstream port","k":"s"}
    ]
  },
  "concat": [
    {
      "title": {"text": "longitudinal impedance: input and output ports on 50Ω"},
      "width": 748, "height": 336,
      "data": {"name": "p1"},
      "layer": [
        {
          "mark": {"type": "line", "clip": true},
          "encoding": {
            "x": {"field": "f", "type": "quantitative", "scale": {"domain": [0, 2], "nice": false, "zero": false}, "axis": {"orient": "bottom", "values": [0,0.2,0.4,0.6,0.8,1,1.2,1.4,1.6,1.8,2], "labelExpr": "'' + datum.value", "labelBaseline": "middle", "labelPadding": 32, "title": "f [GHz]", "titleX": 374, "titleY": 64, "titleBaseline": "middle", "titleAlign": "center"}},
            "y": {"field": "v", "type": "quantitative", "scale": {"domain": [-12.3, 16], "nice": false, "zero": false}, "axis": {"orient": "left", "values": [-10,-5,0,5,10,15], "labelExpr": "'' + datum.value", "labelPadding": 15, "title": "Zlongitudinal  [Ω]", "titleFontSize": 26, "titleX": -67.5, "titleY": 168, "titleBaseline": "middle", "titleAlign": "center", "titleAngle": -90}},
            "color": {"field": "s", "type": "nominal", "scale": {"domain": ["R", "I"], "range": ["#ff0000", "#0000ff"]}, "legend": {"title": null, "legendX": 464.5, "legendY": 42.8, "labelOffset": 27, "rowPadding": 13, "symbolStrokeWidth": 2.5}},
            "strokeDash": {"field": "k", "type": "nominal", "scale": {"domain": ["m", "s"], "range": [[1, 0], [7, 5]]}, "legend": null},
            "strokeWidth": {"field": "k", "type": "nominal", "scale": {"type": "point", "domain": ["m", "s"], "range": [2.6, 1.3], "padding": 0}, "legend": null}
          }
        },
        {
          "mark": {"type": "line", "opacity": 0},
          "encoding": {
            "x": {"field": "f", "type": "quantitative", "axis": {"orient": "top", "values": [0,0.2,0.4,0.6,0.8,1,1.2,1.4,1.6,1.8,2], "labels": false, "title": null, "tickSize": -10}},
            "y": {"field": "v", "type": "quantitative", "axis": {"orient": "right", "values": [-10,-5,0,5,10,15], "labels": false, "title": null, "tickSize": -8}}
          }
        }
      ],
      "resolve": {"axis": {"x": "independent", "y": "independent"}}
    },
    {
      "title": {"text": "longitudinal impedance: input ports shorted, output ports on 50 Ω (ideal load)"},
      "width": 746, "height": 336,
      "data": {"name": "p2"},
      "layer": [
        {
          "mark": {"type": "line", "clip": true},
          "encoding": {
            "x": {"field": "f", "type": "quantitative", "scale": {"domain": [0, 2], "nice": false, "zero": false}, "axis": {"orient": "bottom", "values": [0,0.2,0.4,0.6,0.8,1,1.2,1.4,1.6,1.8,2], "labelExpr": "'' + datum.value", "labelBaseline": "middle", "labelPadding": 32, "title": "f [GHz]", "titleX": 373, "titleY": 64, "titleBaseline": "middle", "titleAlign": "center"}},
            "y": {"field": "v", "type": "quantitative", "scale": {"domain": [-12.3, 16], "nice": false, "zero": false}, "axis": {"orient": "left", "values": [-10,-5,0,5,10,15], "labelExpr": "'' + datum.value", "labelPadding": 15, "title": "Zlongitudinal  [Ω]", "titleFontSize": 26, "titleX": -67.5, "titleY": 168, "titleBaseline": "middle", "titleAlign": "center", "titleAngle": -90}},
            "color": {"field": "s", "type": "nominal", "scale": {"domain": ["R", "I"], "range": ["#ff0000", "#0000ff"]}, "legend": {"title": null, "legendX": 462.5, "legendY": 42.5, "labelOffset": 26, "rowPadding": 13}},
            "strokeWidth": {"field": "s", "type": "nominal", "scale": {"type": "point", "domain": ["R", "I"], "range": [1.7, 2.6], "padding": 0}, "legend": {"title": null, "legendX": 462.5, "legendY": 42.5, "labelOffset": 26, "rowPadding": 13}}
          }
        },
        {
          "mark": {"type": "line", "opacity": 0},
          "encoding": {
            "x": {"field": "f", "type": "quantitative", "axis": {"orient": "top", "values": [0,0.2,0.4,0.6,0.8,1,1.2,1.4,1.6,1.8,2], "labels": false, "title": null, "tickSize": -10}},
            "y": {"field": "v", "type": "quantitative", "axis": {"orient": "right", "values": [-10,-5,0,5,10,15], "labels": false, "title": null, "tickSize": -8}}
          }
        }
      ],
      "resolve": {"axis": {"x": "independent", "y": "independent"}}
    },
    {
      "title": {"text": "longitudinal impedance: input ports shorted, output ports on HV loads"},
      "width": 748, "height": 336,
      "data": {"name": "p3"},
      "layer": [
        {
          "mark": {"type": "line", "clip": true, "strokeWidth": 1.6},
          "encoding": {
            "x": {"field": "f", "type": "quantitative", "scale": {"domain": [0, 2], "nice": false, "zero": false}, "axis": {"orient": "bottom", "values": [0,0.2,0.4,0.6,0.8,1,1.2,1.4,1.6,1.8,2], "labelExpr": "'' + datum.value", "labelBaseline": "middle", "labelPadding": 32, "title": "f [GHz]", "titleX": 374, "titleY": 64, "titleBaseline": "middle", "titleAlign": "center"}},
            "y": {"field": "v", "type": "quantitative", "scale": {"domain": [-25.2, 34.9], "nice": false, "zero": false}, "axis": {"orient": "left", "values": [-20,-10,0,10,20,30], "labelExpr": "'' + datum.value", "labelPadding": 15, "title": "Zlongitudinal  [Ω]", "titleFontSize": 26, "titleX": -67.5, "titleY": 168, "titleBaseline": "middle", "titleAlign": "center", "titleAngle": -90}},
            "color": {"field": "s", "type": "nominal", "scale": {"domain": ["R", "I"], "range": ["#ff0000", "#0000ff"]}, "legend": {"title": null, "legendX": 460.5, "legendY": 51.2, "labelOffset": 26, "rowPadding": 11.3, "symbolStrokeWidth": 2}}
          }
        },
        {
          "mark": {"type": "line", "opacity": 0},
          "encoding": {
            "x": {"field": "f", "type": "quantitative", "axis": {"orient": "top", "values": [0,0.2,0.4,0.6,0.8,1,1.2,1.4,1.6,1.8,2], "labels": false, "title": null, "tickSize": -10}},
            "y": {"field": "v", "type": "quantitative", "axis": {"orient": "right", "values": [-20,-10,0,10,20,30], "labels": false, "title": null, "tickSize": -8}}
          }
        }
      ],
      "resolve": {"axis": {"x": "independent", "y": "independent"}}
    },
    {
      "title": {"text": "transfer impedance of input and output ports"},
      "width": 746, "height": 336,
      "data": {"name": "p4"},
      "layer": [
        {
          "mark": {"type": "line", "clip": true},
          "encoding": {
            "x": {"field": "f", "type": "quantitative", "scale": {"domain": [0, 2], "nice": false, "zero": false}, "axis": {"orient": "bottom", "values": [0,0.2,0.4,0.6,0.8,1,1.2,1.4,1.6,1.8,2], "labelExpr": "'' + datum.value", "labelBaseline": "middle", "labelPadding": 32, "title": "f [GHz]", "titleX": 373, "titleY": 64, "titleBaseline": "middle", "titleAlign": "center"}},
            "y": {"field": "v", "type": "quantitative", "scale": {"domain": [-2.15, 17.05], "nice": false, "zero": false}, "axis": {"orient": "left", "values": [0,5,10,15], "labelExpr": "'' + datum.value", "labelPadding": 15, "title": "Ztransfer  [Ω]", "titleFontSize": 26, "titleX": -59, "titleY": 168, "titleBaseline": "middle", "titleAlign": "center", "titleAngle": -90}},
            "color": {"field": "s", "type": "nominal", "scale": {"domain": ["upstream port", "downstream port"], "range": ["#0000ff", "#ff0000"]}, "legend": {"title": null, "legendX": 451.5, "legendY": 62.2, "labelOffset": 25, "rowPadding": 13.6, "labelLimit": 400}},
            "strokeWidth": {"field": "s", "type": "nominal", "scale": {"type": "point", "domain": ["upstream port", "downstream port"], "range": [1.4, 2.6], "padding": 0}, "legend": {"title": null, "legendX": 451.5, "legendY": 62.2, "labelOffset": 25, "rowPadding": 13.6, "labelLimit": 400}},
            "strokeDash": {"field": "k", "type": "nominal", "scale": {"domain": ["m", "s"], "range": [[1, 0], [6, 5]]}, "legend": null}
          }
        },
        {
          "mark": {"type": "line", "opacity": 0},
          "encoding": {
            "x": {"field": "f", "type": "quantitative", "axis": {"orient": "top", "values": [0,0.2,0.4,0.6,0.8,1,1.2,1.4,1.6,1.8,2], "labels": false, "title": null, "tickSize": -10}},
            "y": {"field": "v", "type": "quantitative", "axis": {"orient": "right", "values": [0,5,10,15], "labels": false, "title": null, "tickSize": -8}}
          }
        }
      ],
      "resolve": {"axis": {"x": "independent", "y": "independent"}}
    }
  ],
  "columns": 2,
  "spacing": {"row": 139, "column": 234.5},
  "bounds": "flush"
}
